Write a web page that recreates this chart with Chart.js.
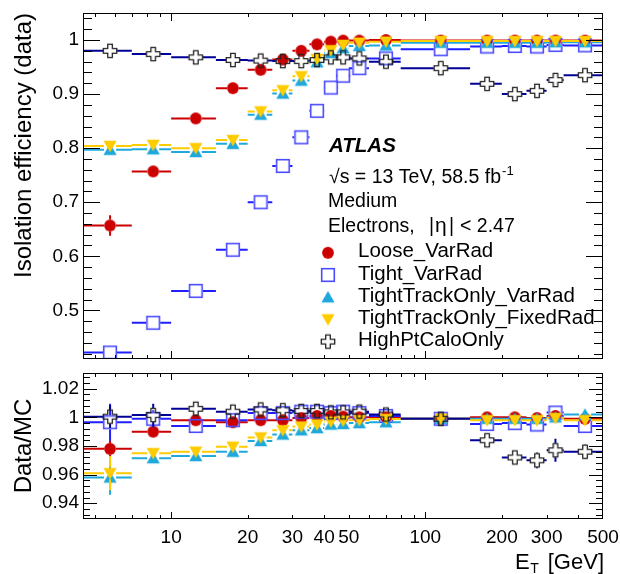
<!DOCTYPE html>
<html>
<head>
<meta charset="utf-8">
<title>Isolation efficiency vs E_T</title>
<script src="https://cdn.jsdelivr.net/npm/chart.js@4.4.1/dist/chart.umd.min.js"></script>
<style>
  body { margin: 0; background: #fff; }
  #plots { position: relative; width: 620px; height: 574px; }
  #plots canvas { position: absolute; left: 0; }
  #effCanvas { top: 0; }
  #ratioCanvas { top: 366px; }
</style>
</head>
<body>
<div id="plots">
  <canvas id="effCanvas" width="620" height="366"></canvas>
  <canvas id="ratioCanvas" width="620" height="208"></canvas>
</div>
<script>
// E_T bins [GeV]
const binLo  = [4.5, 7, 10, 15, 20, 25, 30, 35, 40, 45, 50, 60, 80, 150, 200, 250, 300, 350];
const binHi  = [7, 10, 15, 20, 25, 30, 35, 40, 45, 50, 60, 80, 150, 200, 250, 300, 350, 500];
const binMid = [5.75, 8.5, 12.5, 17.5, 22.5, 27.5, 32.5, 37.5, 42.5, 47.5, 55, 70, 115, 175, 225, 275, 325, 425];

const wpNames = ['Loose_VarRad', 'Tight_VarRad', 'TightTrackOnly_VarRad', 'TightTrackOnly_FixedRad', 'HighPtCaloOnly'];

// efficiency measured in data
const effLoose    = [0.657, 0.757, 0.855, 0.911, 0.945, 0.964, 0.980, 0.992, 0.997, 0.999, 0.999, 1.000, 0.999, 0.999, 0.999, 0.999, 0.999, 0.999];
const effTight    = [0.422, 0.477, 0.536, 0.612, 0.700, 0.767, 0.820, 0.869, 0.912, 0.934, 0.948, 0.966, 0.983, 0.988, 0.989, 0.988, 0.991, 0.990];
const effTrkVar   = [0.797, 0.798, 0.793, 0.808, 0.862, 0.901, 0.925, 0.959, 0.976, 0.985, 0.989, 0.990, 0.995, 0.995, 0.995, 0.995, 0.996, 0.996];
const effTrkFixed = [0.804, 0.806, 0.800, 0.815, 0.868, 0.907, 0.933, 0.965, 0.981, 0.991, 0.995, 0.997, 0.998, 0.998, 0.998, 0.998, 0.998, 0.998];
const effCalo     = [0.980, 0.974, 0.968, 0.963, 0.962, 0.961, 0.961, 0.963, 0.968, 0.968, 0.966, 0.960, 0.948, 0.919, 0.900, 0.906, 0.926, 0.935];

const errLoose    = [0.019, 0.006, 0.004, 0.003, 0.002, 0.002, 0.002, 0.001, 0.001, 0.001, 0.001, 0.001, 0.001, 0.001, 0.001, 0.002, 0.002, 0.002];
const errTight    = [0.012, 0.006, 0.004, 0.003, 0.003, 0.002, 0.002, 0.002, 0.002, 0.001, 0.001, 0.001, 0.001, 0.001, 0.002, 0.002, 0.003, 0.002];
const errTrkVar   = [0.010, 0.005, 0.004, 0.003, 0.002, 0.002, 0.002, 0.001, 0.001, 0.001, 0.001, 0.001, 0.001, 0.001, 0.001, 0.001, 0.002, 0.002];
const errTrkFixed = [0.010, 0.005, 0.004, 0.003, 0.002, 0.002, 0.002, 0.001, 0.001, 0.001, 0.001, 0.001, 0.001, 0.001, 0.001, 0.001, 0.002, 0.002];
const errCalo     = [0.003, 0.002, 0.002, 0.002, 0.002, 0.002, 0.002, 0.001, 0.001, 0.001, 0.001, 0.001, 0.002, 0.003, 0.005, 0.006, 0.008, 0.005];

// data / MC
const sfLoose    = [0.978, 0.990, 0.998, 0.9966, 0.998, 0.998, 0.9995, 1.001, 1.001, 1.0005, 1.000, 1.000, 0.999, 1.000, 1.000, 0.9995, 1.001, 0.999];
const sfTight    = [0.9966, 0.999, 0.994, 0.998, 1.003, 1.003, 1.004, 1.004, 1.003, 1.004, 1.003, 1.001, 0.999, 0.9954, 0.996, 0.995, 1.0034, 0.994];
const sfTrkVar   = [0.958, 0.9715, 0.973, 0.976, 0.9835, 0.988, 0.991, 0.9925, 0.995, 0.9954, 0.996, 0.9966, 0.999, 0.999, 0.999, 0.999, 1.000, 1.002];
const sfTrkFixed = [0.961, 0.975, 0.976, 0.9795, 0.986, 0.991, 0.9936, 0.995, 0.997, 0.9977, 0.998, 0.9988, 0.999, 0.998, 0.998, 0.998, 0.9995, 0.998];
const sfCalo     = [1.0005, 1.0016, 1.006, 1.004, 1.0055, 1.005, 1.0045, 1.0045, 1.0035, 1.0035, 1.004, 1.002, 0.999, 0.984, 0.972, 0.970, 0.977, 0.976];

const sfErrLoose    = [0.006, 0.003, 0.002, 0.002, 0.001, 0.001, 0.001, 0.001, 0.001, 0.001, 0.001, 0.001, 0.001, 0.001, 0.001, 0.001, 0.002, 0.002];
const sfErrTight    = [0.013, 0.006, 0.004, 0.003, 0.002, 0.002, 0.002, 0.002, 0.002, 0.002, 0.001, 0.001, 0.001, 0.002, 0.002, 0.002, 0.003, 0.003];
const sfErrTrkVar   = [0.012, 0.003, 0.002, 0.002, 0.001, 0.001, 0.001, 0.001, 0.001, 0.001, 0.001, 0.001, 0.001, 0.001, 0.001, 0.001, 0.002, 0.002];
const sfErrTrkFixed = [0.012, 0.003, 0.002, 0.002, 0.001, 0.001, 0.001, 0.001, 0.001, 0.001, 0.001, 0.001, 0.001, 0.001, 0.001, 0.001, 0.002, 0.002];
const sfErrCalo     = [0.008, 0.008, 0.003, 0.002, 0.002, 0.002, 0.002, 0.002, 0.002, 0.002, 0.002, 0.002, 0.002, 0.003, 0.004, 0.0055, 0.008, 0.005];

// axis ticks
const xTickVals = [5, 6, 7, 8, 9, 10, 20, 30, 40, 50, 60, 70, 80, 90, 100, 200, 300, 400, 500];
const xLabels   = ['10', '20', '30', '40', '50', '100', '200', '300', '500'];
const xDecades  = [10, 100];
const effLabels   = ['0.5', '0.6', '0.7', '0.8', '0.9', '1'];
const ratioLabels = ['0.94', '0.96', '0.98', '1', '1.02'];

const FONT = '"Liberation Sans", Arial, Helvetica, sans-serif';
Chart.defaults.font.family = FONT;
Chart.defaults.color = '#000';

// ROOT-like marker images
function markerCanvas(size, draw) {
  const c = document.createElement('canvas');
  c.width = size; c.height = size;
  const g = c.getContext('2d');
  g.translate(size / 2, size / 2);
  draw(g);
  return c;
}
const fullCircle = markerCanvas(14, g => {
  g.beginPath(); g.arc(0, 0, 5.9, 0, Math.PI * 2);
  g.fillStyle = '#cc0000'; g.fill();
});
const openSquare = markerCanvas(16, g => {
  g.strokeStyle = '#4b4bff'; g.lineWidth = 1.6;
  g.strokeRect(-6.3, -6.3, 12.6, 12.6);
});
const triUp = markerCanvas(16, g => {
  g.beginPath(); g.moveTo(0, -6.2); g.lineTo(6.6, 5.2); g.lineTo(-6.6, 5.2); g.closePath();
  g.fillStyle = '#1fa8dc'; g.fill();
});
const triDown = markerCanvas(16, g => {
  g.beginPath(); g.moveTo(0, 6.2); g.lineTo(6.6, -5.2); g.lineTo(-6.6, -5.2); g.closePath();
  g.fillStyle = '#ffcc00'; g.fill();
});
const openCross = markerCanvas(18, g => {
  const h = 6.7, a = 2.3;
  g.beginPath();
  g.moveTo(-a, -h); g.lineTo(a, -h); g.lineTo(a, -a); g.lineTo(h, -a); g.lineTo(h, a); g.lineTo(a, a);
  g.lineTo(a, h); g.lineTo(-a, h); g.lineTo(-a, a); g.lineTo(-h, a); g.lineTo(-h, -a); g.lineTo(-a, -a);
  g.closePath();
  g.strokeStyle = '#222'; g.lineWidth = 1.3; g.stroke();
});

const markers = [
  { img: fullCircle, line: '#cc0000', gap: 5.9 },
  { img: openSquare, line: '#1f1fff', gap: 7 },
  { img: triUp,      line: '#1fa8dc', gap: 6 },
  { img: triDown,    line: '#ffcc00', gap: 6 },
  { img: openCross,  line: '#000099', gap: 7 }
];

function makeDatasets(values, errors) {
  return markers.map((m, k) => ({
    label: wpNames[k],
    data: binMid.map((x, i) => ({ x: x, y: values[k][i] })),
    err: errors[k],
    barColor: m.line,
    gap: m.gap,
    pointStyle: m.img,
    pointRadius: 6,
    order: markers.length - k
  }));
}

// bin-width and stat error bars, drawn just before each dataset's markers
const errorBars = {
  id: 'errorBars',
  beforeDatasetDraw(chart, args) {
    const ds = chart.data.datasets[args.index];
    const xs = chart.scales.x, ys = chart.scales.y;
    const ctx = chart.ctx, a = chart.chartArea;
    ctx.save();
    ctx.beginPath();
    ctx.rect(a.left, a.top, a.right - a.left, a.bottom - a.top);
    ctx.clip();
    ctx.strokeStyle = ds.barColor;
    ctx.lineWidth = 2;
    ctx.beginPath();
    ds.data.forEach((p, i) => {
      const px = xs.getPixelForValue(p.x), py = ys.getPixelForValue(p.y);
      const x0 = xs.getPixelForValue(binLo[i]), x1 = xs.getPixelForValue(binHi[i]);
      ctx.moveTo(x0, py); ctx.lineTo(px - ds.gap, py);
      ctx.moveTo(px + ds.gap, py); ctx.lineTo(x1, py);
      const yUp = ys.getPixelForValue(p.y + ds.err[i]);
      const yDn = ys.getPixelForValue(p.y - ds.err[i]);
      if (py - yUp > ds.gap) {
        ctx.moveTo(px, yUp); ctx.lineTo(px, py - ds.gap);
        ctx.moveTo(px, py + ds.gap); ctx.lineTo(px, yDn);
      }
    });
    ctx.stroke();
    ctx.restore();
  }
};

// frame with inward ticks on all four sides
const rootFrame = {
  id: 'rootFrame',
  afterDraw(chart, args, o) {
    const { ctx, chartArea: a } = chart;
    const xs = chart.scales.x, ys = chart.scales.y;
    ctx.save();
    ctx.strokeStyle = '#000';
    ctx.lineWidth = 1;
    ctx.beginPath();
    xs.ticks.forEach(t => {
      const x = Math.round(xs.getPixelForValue(t.value)) + 0.5;
      if (x <= a.left + 1 || x >= a.right - 1) return;
      const len = xDecades.includes(t.value) ? o.xMajor : o.xMinor;
      ctx.moveTo(x, a.bottom); ctx.lineTo(x, a.bottom - len);
      ctx.moveTo(x, a.top); ctx.lineTo(x, a.top + len);
    });
    ys.ticks.forEach(t => {
      const y = Math.round(ys.getPixelForValue(t.value)) + 0.5;
      const len = t.label !== '' ? o.yMajor : o.yMinor;
      ctx.moveTo(a.left, y); ctx.lineTo(a.left + len, y);
      ctx.moveTo(a.right, y); ctx.lineTo(a.right - len, y);
    });
    ctx.stroke();
    ctx.strokeRect(a.left + 0.5, a.top + 0.5, a.right - a.left - 1, a.bottom - a.top - 1);
    ctx.restore();
  }
};

// ATLAS label and legend in the efficiency panel
const infoBox = {
  id: 'infoBox',
  afterDraw(chart) {
    const ctx = chart.ctx;
    ctx.save();
    ctx.fillStyle = '#000';
    ctx.textBaseline = 'alphabetic';
    ctx.textAlign = 'left';

    ctx.font = 'italic bold 20.5px ' + FONT;
    ctx.fillText('ATLAS', 329, 151.5);

    ctx.font = '19.5px ' + FONT;
    const lumi = '\u221As = 13 TeV, 58.5 fb';
    ctx.fillText(lumi, 329, 183);
    const lw = ctx.measureText(lumi).width;
    ctx.font = '13px ' + FONT;
    ctx.fillText('-1', 329 + lw + 1, 175);

    ctx.font = '19.5px ' + FONT;
    ctx.fillText('Medium', 328, 206.5);
    ctx.fillText('Electrons,', 328, 231.5);
    ctx.fillText('|', 429, 231.5);
    ctx.font = '21px ' + FONT;
    ctx.fillText('\u03B7', 435, 231.5);
    ctx.font = '19.5px ' + FONT;
    ctx.fillText('|', 449, 231.5);
    ctx.fillText('< 2.47', 460, 231.5);

    ctx.font = '20.5px ' + FONT;
    chart.data.datasets.forEach((ds, i) => {
      const base = 257.3 + i * 22.2;
      const img = ds.pointStyle;
      ctx.drawImage(img, 328 - img.width / 2, base - 4.5 - img.height / 2);
      ctx.fillText(ds.label, 358, base);
    });
    ctx.restore();
  }
};

// x-axis title with subscript
const xTitle = {
  id: 'xTitle',
  afterDraw(chart) {
    const ctx = chart.ctx;
    ctx.save();
    ctx.fillStyle = '#000';
    ctx.textBaseline = 'alphabetic';
    ctx.font = '22px ' + FONT;
    ctx.textAlign = 'right';
    ctx.fillText('[GeV]', 604, 203);
    ctx.textAlign = 'left';
    ctx.fillText('E', 515, 203);
    const ew = ctx.measureText('E').width;
    ctx.font = '14px ' + FONT;
    ctx.fillText('T', 515 + ew + 0.5, 207);
    ctx.restore();
  }
};

function labelFrom(list) {
  return v => {
    const hit = list.find(s => Math.abs(parseFloat(s) - v) < 1e-6);
    return hit === undefined ? '' : hit;
  };
}

function xAxis(showLabels, height) {
  return {
    type: 'logarithmic',
    min: 4.5,
    max: 500,
    bounds: 'data',
    grid: { display: false, drawTicks: false },
    border: { display: false },
    ticks: {
      display: showLabels,
      autoSkip: false,
      maxRotation: 0,
      padding: 7,
      font: { size: 19 },
      callback: v => (xLabels.includes(String(v)) ? String(v) : '')
    },
    afterBuildTicks: s => { s.ticks = xTickVals.map(v => ({ value: v })); },
    afterFit: s => { s.height = height; s.paddingLeft = 0; s.paddingRight = 0; }
  };
}

function yAxis(min, max, tickVals, labels, title, align) {
  return {
    type: 'linear',
    min: min,
    max: max,
    bounds: 'data',
    grid: { display: false, drawTicks: false },
    border: { display: false },
    ticks: { autoSkip: false, padding: 4, font: { size: 19 }, callback: labelFrom(labels) },
    title: { display: true, text: title, align: align, font: { size: 24 }, padding: { top: 10, bottom: 0 } },
    afterBuildTicks: s => { s.ticks = tickVals.map(v => ({ value: v })); },
    afterFit: s => { s.width = 83; s.paddingTop = 0; s.paddingBottom = 0; }
  };
}

// minor tick grids
const effTicks = [];
for (let k = 21; k <= 52; k++) effTicks.push(k / 50);
const ratioTicks = [];
for (let k = 233; k <= 257; k++) ratioTicks.push(k / 250);

new Chart(document.getElementById('effCanvas'), {
  type: 'scatter',
  data: {
    datasets: makeDatasets(
      [effLoose, effTight, effTrkVar, effTrkFixed, effCalo],
      [errLoose, errTight, errTrkVar, errTrkFixed, errCalo])
  },
  options: {
    responsive: false,
    animation: false,
    events: [],
    layout: { padding: { left: 0, right: 17, top: 13, bottom: 5 } },
    plugins: {
      legend: { display: false },
      tooltip: { enabled: false },
      rootFrame: { xMajor: 8, xMinor: 4, yMajor: 17, yMinor: 9 }
    },
    scales: {
      x: xAxis(false, 0),
      y: yAxis(0.41, 1.05, effTicks, effLabels, 'Isolation efficiency (data)', 'end')
    }
  },
  plugins: [errorBars, rootFrame, infoBox]
});

new Chart(document.getElementById('ratioCanvas'), {
  type: 'scatter',
  data: {
    datasets: makeDatasets(
      [sfLoose, sfTight, sfTrkVar, sfTrkFixed, sfCalo],
      [sfErrLoose, sfErrTight, sfErrTrkVar, sfErrTrkFixed, sfErrCalo])
  },
  options: {
    responsive: false,
    animation: false,
    events: [],
    layout: { padding: { left: 0, right: 17, top: 4, bottom: 0 } },
    plugins: {
      legend: { display: false },
      tooltip: { enabled: false },
      rootFrame: { xMajor: 7, xMinor: 4, yMajor: 14, yMinor: 7 }
    },
    scales: {
      x: xAxis(true, 55),
      y: yAxis(0.929, 1.031, ratioTicks, ratioLabels, 'Data/MC', 'center')
    }
  },
  plugins: [errorBars, rootFrame, xTitle]
});
</script>
</body>
</html>
